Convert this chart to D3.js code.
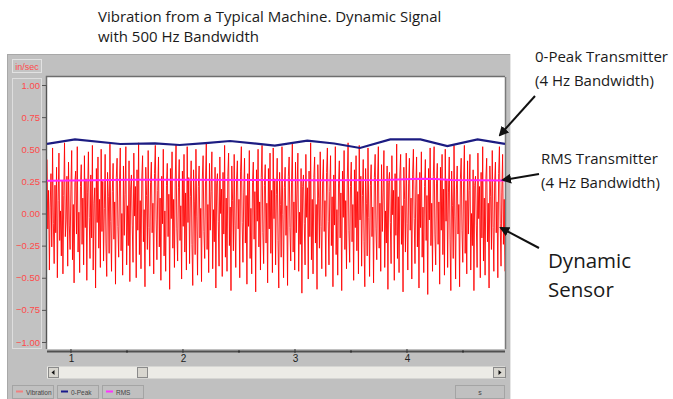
<!DOCTYPE html>
<html>
<head>
<meta charset="utf-8">
<script src="https://cdnjs.cloudflare.com/ajax/libs/d3/7.8.5/d3.min.js"></script>
<style>
  body { margin: 0; background: #fff; }
  svg { display: block; }
</style>
</head>
<body>
<div id="viz"></div>
<script>
// time span shown in the window (s)
const T_START = 0.786;
const T_END = 4.875;

// dynamic signal, in/sec, evenly sampled between T_START and T_END
const vibration = [
  0.42,-0.12,0.18,-0.44,0.05,0.31,-0.26,0.51,-0.08,-0.39,0.22,-0.15,
  0.36,-0.50,0.10,0.47,-0.21,0.02,-0.33,0.26,-0.47,0.14,0.55,-0.18,
  -0.05,0.29,-0.41,0.40,-0.09,-0.28,0.19,0.49,-0.36,0.07,-0.54,0.24,
  0.33,-0.16,0.52,-0.30,0.01,-0.46,0.21,0.38,-0.24,0.12,-0.40,0.45,
  -0.11,0.27,-0.52,0.16,0.48,-0.03,-0.35,0.30,-0.19,0.53,-0.44,0.08,
  0.20,-0.58,0.35,-0.07,0.44,-0.27,0.11,-0.42,0.50,-0.14,0.25,-0.37,
  0.04,0.46,-0.23,-0.49,0.32,0.13,-0.31,0.54,-0.06,-0.45,0.17,0.39,
  -0.20,0.09,-0.55,0.28,0.43,-0.10,-0.34,0.23,0.51,-0.29,0.00,-0.48,
  0.37,-0.17,0.15,0.52,-0.40,0.06,-0.25,0.41,-0.53,0.19,0.30,-0.09,
  -0.38,0.47,-0.02,0.21,-0.50,0.34,-0.13,0.55,-0.32,0.10,-0.43,0.27,
  0.45,-0.22,0.03,-0.57,0.36,0.14,-0.28,0.49,-0.11,-0.41,0.24,0.40,
  -0.15,0.08,-0.47,0.31,0.53,-0.05,-0.36,0.18,0.44,-0.26,0.12,-0.52,
  0.29,-0.08,0.50,-0.33,0.02,-0.45,0.22,0.39,-0.18,0.15,-0.59,0.35,
  -0.04,0.48,-0.27,0.11,-0.42,0.26,0.54,-0.12,-0.37,0.20,0.42,-0.21,
  0.06,-0.51,0.33,-0.10,0.46,-0.30,0.16,-0.44,0.52,-0.07,0.28,-0.39,
  0.13,0.41,-0.24,-0.56,0.34,0.09,-0.32,0.50,-0.02,-0.48,0.21,0.37,
  -0.19,0.04,-0.53,0.27,0.45,-0.14,-0.35,0.25,0.55,-0.28,0.07,-0.46,
  0.39,-0.13,0.17,0.48,-0.43,0.03,-0.22,0.36,-0.58,0.23,0.31,-0.06,
  -0.41,0.44,0.00,0.19,-0.49,0.32,-0.16,0.53,-0.34,0.12,-0.45,0.29,
  0.47,-0.25,0.05,-0.60,0.37,0.10,-0.29,0.46,-0.09,-0.42,0.26,0.41,
  -0.12,0.11,-0.50,0.33,0.52,-0.07,-0.38,0.16,0.43,-0.23,0.14,-0.55,
  0.31,-0.10,0.49,-0.35,0.04,-0.47,0.24,0.40,-0.20,0.17,-0.61,0.34,
  -0.06,0.50,-0.26,0.09,-0.44,0.28,0.53,-0.15,-0.39,0.22,0.38,-0.23,
  0.08,-0.54,0.35,-0.12,0.47,-0.31,0.18,-0.46,0.51,-0.04,0.27,-0.40,
  0.15,0.43,-0.21,-0.58,0.32,0.07,-0.34,0.52,-0.01,-0.50,0.20,0.36,
  -0.17,0.06,-0.56,0.29,0.44,-0.11,-0.37,0.24,0.54,-0.30,0.09,-0.44,
  0.40,-0.15,0.19,0.47,-0.45,0.01,-0.24,0.35,-0.62,0.21,0.30,-0.08,
  -0.40,0.46,-0.03,0.20,-0.51,0.33,-0.18,0.55,-0.36,0.11,-0.47,0.28,
  0.44,-0.23,0.07,-0.59,0.38,0.12,-0.27,0.48,-0.10,-0.43,0.25,0.42,
  -0.14,0.10,-0.49,0.32,0.51,-0.06,-0.40,0.17,0.45,-0.25,0.13,-0.57,
  0.30,-0.09,0.52,-0.32,0.03,-0.48,0.23,0.41,-0.19,0.16,-0.60,0.33,
  -0.03,0.49,-0.28,0.10,-0.43,0.27,0.55,-0.13,-0.38,0.21,0.40,-0.22,
  0.07,-0.52,0.34,-0.11,0.45,-0.29,0.17,-0.47,0.53,-0.05,0.29,-0.41,
  0.14,0.42,-0.22,-0.57,0.35,0.08,-0.33,0.51,-0.03,-0.49,0.22,0.38,
  -0.18,0.05,-0.54,0.28,0.46,-0.12,-0.36,0.26,0.52,-0.27,0.08,-0.45,
  0.38,-0.14,0.16,0.49,-0.42,0.02,-0.23,0.37,-0.59,0.24,0.32,-0.07,
  -0.39,0.45,-0.01,0.18,-0.52,0.31,-0.17,0.54,-0.35,0.13,-0.46,0.30,
  0.46,-0.24,0.06,-0.61,0.36,0.11,-0.30,0.47,-0.08,-0.44,0.23,0.43,
  -0.13,0.12,-0.51,0.30,0.50,-0.04,-0.39,0.19,0.44,-0.26,0.15,-0.58,
  0.32,-0.11,0.48,-0.34,0.05,-0.46,0.21,0.42,-0.21,0.14,-0.63,0.35,
  -0.05,0.51,-0.25,0.08,-0.45,0.29,0.52,-0.16,-0.40,0.23,0.39,-0.24,
  0.09,-0.55,0.36,-0.13,0.46,-0.32,0.19,-0.48,0.50,-0.06,0.26,-0.42,
  0.16,0.44,-0.20,-0.60,0.33,0.06,-0.35,0.53,-0.02,-0.51,0.19,0.37,
  -0.16,0.07,-0.57,0.27,0.43,-0.13,-0.38,0.25,0.53,-0.31,0.10,-0.47,
  0.41,-0.16,0.18,0.46,-0.44,0.00,-0.25,0.34,-0.60,0.22,0.29,-0.09,
  -0.42,0.47,-0.04,0.21,-0.50,0.32,-0.19,0.52,-0.37,0.12,-0.48,0.27,
  0.43,-0.22,0.08,-0.58,0.37,0.13,-0.28,0.49,-0.11,-0.45,0.24,0.40,
  -0.15,0.09,-0.50,0.31,0.52,-0.08,-0.41,0.16,0.46,-0.24,0.11,-0.45
];

// 0-peak transmitter output [t, in/sec]
const peakTimes  = [0.786, 1.036, 1.44, 1.75, 1.97, 2.20, 2.42, 2.82, 3.11, 3.35, 3.58, 3.85, 4.12, 4.36, 4.63, 4.875];
const peakValues = [0.541, 0.577, 0.541, 0.545, 0.533, 0.548, 0.564, 0.529, 0.567, 0.545, 0.510, 0.577, 0.577, 0.525, 0.577, 0.541];

// RMS transmitter output
const rmsTimes  = [0.786, 1.2, 1.5, 2.0, 2.6, 3.2, 3.8, 4.12, 4.25, 4.40, 4.875];
const rmsValues = [0.255, 0.258, 0.262, 0.262, 0.260, 0.258, 0.260, 0.270, 0.268, 0.260, 0.256];

const yTicks = [1.00, 0.75, 0.50, 0.25, 0.00, -0.25, -0.50, -0.75, -1.00];
const xMajor = [1, 2, 3, 4];
const xMinor = [1.5, 2.5, 3.5, 4.5];
const legendItems = [
  { name: 'Vibration', color: '#f08080' },
  { name: '0-Peak', color: '#1a1a8c' },
  { name: 'RMS', color: '#ff33ff' }
];

const W = 673, H = 399;
const PLOT = { left: 47, right: 505, top: 77, bottom: 349 };
const GRAY = '#c0c0c0';

const svg = d3.select('#viz').append('svg')
  .attr('width', W)
  .attr('height', H);

// --- window chrome ---
svg.append('rect')
  .attr('x', 7).attr('y', 54)
  .attr('width', 504).attr('height', H - 54)
  .attr('fill', GRAY);
svg.append('line')
  .attr('x1', 7).attr('x2', 511).attr('y1', 54.5).attr('y2', 54.5)
  .attr('stroke', '#a8a8a8');
svg.append('line')
  .attr('x1', 7.5).attr('x2', 7.5).attr('y1', 54).attr('y2', H)
  .attr('stroke', '#a8a8a8');
svg.append('line')
  .attr('x1', 510.5).attr('x2', 510.5).attr('y1', 54).attr('y2', H)
  .attr('stroke', '#e6e6e6');

// units box
svg.append('rect')
  .attr('x', 12.5).attr('y', 59.5).attr('width', 29).attr('height', 13)
  .attr('fill', '#c4c4c4').attr('stroke', '#e2e2e2');
svg.append('text')
  .attr('x', 27).attr('y', 69.5)
  .attr('text-anchor', 'middle')
  .attr('font-family', 'Liberation Sans, Arial, sans-serif')
  .attr('font-size', 9)
  .attr('fill', '#ff4a4a')
  .text('in/sec');

// y label panel
svg.append('rect')
  .attr('x', 12.5).attr('y', 78.5).attr('width', 29).attr('height', 270)
  .attr('fill', '#c2c2c2').attr('stroke', '#dedede');

// plot area
svg.append('rect')
  .attr('x', PLOT.left).attr('y', PLOT.top)
  .attr('width', PLOT.right - PLOT.left).attr('height', PLOT.bottom - PLOT.top)
  .attr('fill', '#fff');
svg.append('path')
  .attr('d', `M${PLOT.left - 0.5},${PLOT.bottom}V${PLOT.top - 0.5}H${PLOT.right}`)
  .attr('fill', 'none').attr('stroke', '#6e6e6e').attr('stroke-width', 1.5);
svg.append('line')
  .attr('x1', PLOT.right + 0.5).attr('x2', PLOT.right + 0.5)
  .attr('y1', PLOT.top).attr('y2', PLOT.bottom)
  .attr('stroke', '#7a7a7a').attr('stroke-width', 1.5);

// --- scales ---
const xScale = d3.scaleLinear()
  .domain([T_START, T_END])
  .range([PLOT.left, PLOT.right]);

const yScale = d3.scaleLinear()
  .domain([-1, 1])
  .range([342, 85]);

// y axis
const yAxis = svg.append('g')
  .attr('transform', `translate(${PLOT.left - 1},0)`)
  .call(d3.axisLeft(yScale).tickValues(yTicks).tickFormat(d3.format('.2f')).tickSize(4).tickPadding(2));
yAxis.select('.domain').attr('stroke', '#555');
yAxis.selectAll('.tick line').attr('stroke', '#555');
yAxis.selectAll('.tick text')
  .attr('fill', '#ff4a4a')
  .attr('font-family', 'Liberation Sans, Arial, sans-serif')
  .attr('font-size', 9.5);

// x axis band
svg.append('line')
  .attr('x1', PLOT.left).attr('x2', PLOT.right)
  .attr('y1', 351.5).attr('y2', 351.5)
  .attr('stroke', '#505050').attr('stroke-width', 2);
const xAxis = svg.append('g')
  .attr('transform', 'translate(0,351)')
  .call(d3.axisBottom(xScale).tickValues(xMajor).tickFormat(d3.format('d')).tickSize(0).tickPadding(4));
xAxis.select('.domain').remove();
xAxis.selectAll('.tick text')
  .attr('fill', '#222')
  .attr('font-family', 'Liberation Sans, Arial, sans-serif')
  .attr('font-size', 10);
svg.selectAll('.x-major-tick')
  .data(xMajor)
  .enter().append('line')
  .attr('x1', (d) => xScale(d)).attr('x2', (d) => xScale(d))
  .attr('y1', 349).attr('y2', 353)
  .attr('stroke', '#333');
svg.selectAll('.x-minor-tick')
  .data(xMinor)
  .enter().append('rect')
  .attr('x', (d) => xScale(d) - 1).attr('y', 350.5)
  .attr('width', 2).attr('height', 2)
  .attr('fill', '#333');

// scrollbar
svg.append('rect')
  .attr('x', PLOT.left).attr('y', 366.5)
  .attr('width', PLOT.right - PLOT.left).attr('height', 12)
  .attr('fill', '#ecebe6');
[[48, 10], [493, 12], [137, 10]].forEach((b) => {
  svg.append('rect')
    .attr('x', b[0] + 0.5).attr('y', 367.5).attr('width', b[1]).attr('height', 10)
    .attr('fill', '#d8d6cf').attr('stroke', '#8a8a8a');
});
svg.append('path').attr('d', 'M51.5,372.5l3,-2.5v5z').attr('fill', '#111');
svg.append('path').attr('d', 'M501.5,372.5l-3,-2.5v5z').attr('fill', '#111');

// legend row
const legend = svg.selectAll('.legend')
  .data(legendItems)
  .enter().append('g')
  .attr('class', 'legend')
  .attr('transform', (d, i) => `translate(${12 + i * 45},385)`);
legend.append('rect')
  .attr('x', 0.5).attr('y', 0.5).attr('width', 41).attr('height', 13)
  .attr('fill', 'none').attr('stroke', '#a4a4a4');
legend.append('line')
  .attr('x1', 4).attr('x2', 11).attr('y1', 6.5).attr('y2', 6.5)
  .attr('stroke', (d) => d.color).attr('stroke-width', 2);
legend.append('text')
  .attr('x', 14).attr('y', 9.5)
  .attr('font-family', 'Liberation Sans, Arial, sans-serif')
  .attr('font-size', 6.5)
  .attr('fill', '#444')
  .text((d) => d.name);
svg.append('rect')
  .attr('x', 455.5).attr('y', 385.5).attr('width', 49).attr('height', 13)
  .attr('fill', 'none').attr('stroke', '#a4a4a4');
svg.append('text')
  .attr('x', 480).attr('y', 395)
  .attr('text-anchor', 'middle')
  .attr('font-family', 'Liberation Sans, Arial, sans-serif')
  .attr('font-size', 7)
  .attr('fill', '#444')
  .text('s');

// --- series ---
svg.append('clipPath').attr('id', 'plot-clip')
  .append('rect')
  .attr('x', PLOT.left).attr('y', PLOT.top)
  .attr('width', PLOT.right - PLOT.left).attr('height', PLOT.bottom - PLOT.top);

const dt = (T_END - T_START) / (vibration.length - 1);
const vibData = vibration.map((v, i) => ({ t: T_START + i * dt, v: v }));
const peakData = peakTimes.map((t, i) => ({ t: t, v: peakValues[i] }));
const rmsData = rmsTimes.map((t, i) => ({ t: t, v: rmsValues[i] }));

const line = d3.line()
  .x((d) => xScale(d.t))
  .y((d) => yScale(d.v));

const series = svg.append('g').attr('clip-path', 'url(#plot-clip)');

series.append('path')
  .datum(vibData)
  .attr('fill', 'none')
  .attr('stroke', '#ff0000')
  .attr('stroke-opacity', 0.88)
  .attr('stroke-width', 1)
  .attr('d', line);

series.append('path')
  .datum(rmsData)
  .attr('fill', 'none')
  .attr('stroke', '#ff22ff')
  .attr('stroke-width', 2)
  .attr('d', line);

series.append('path')
  .datum(peakData)
  .attr('fill', 'none')
  .attr('stroke', '#1c1c82')
  .attr('stroke-width', 2.2)
  .attr('d', line);

// --- annotations ---
const FONT = 'Open Sans, Lato, sans-serif';
const note = (x, y, size, str) => svg.append('text')
  .attr('x', x).attr('y', y)
  .attr('font-family', FONT)
  .attr('font-size', size)
  .attr('fill', '#1a1a1a')
  .text(str);

note(98, 22, 15, 'Vibration from a Typical Machine. Dynamic Signal');
note(98, 42, 15, 'with 500 Hz Bandwidth');
note(535, 62, 15, '0-Peak Transmitter');
note(535, 86, 15, '(4 Hz Bandwidth)');
note(541, 164, 15, 'RMS Transmitter');
note(541, 188, 15, '(4 Hz Bandwidth)');
note(548, 268, 20.5, 'Dynamic');
note(548, 297, 20.5, 'Sensor');

svg.append('defs').append('marker')
  .attr('id', 'arrow')
  .attr('viewBox', '0 0 10 10')
  .attr('refX', 8).attr('refY', 5)
  .attr('markerWidth', 5).attr('markerHeight', 5)
  .attr('orient', 'auto')
  .append('path')
  .attr('d', 'M0,0L10,5L0,10z')
  .attr('fill', '#111');

[[535, 96, 500, 135], [539, 174, 503, 180], [539, 248, 501, 228]].forEach((a) => {
  svg.append('line')
    .attr('x1', a[0]).attr('y1', a[1]).attr('x2', a[2]).attr('y2', a[3])
    .attr('stroke', '#111').attr('stroke-width', 2)
    .attr('marker-end', 'url(#arrow)');
});
</script>
</body>
</html>
